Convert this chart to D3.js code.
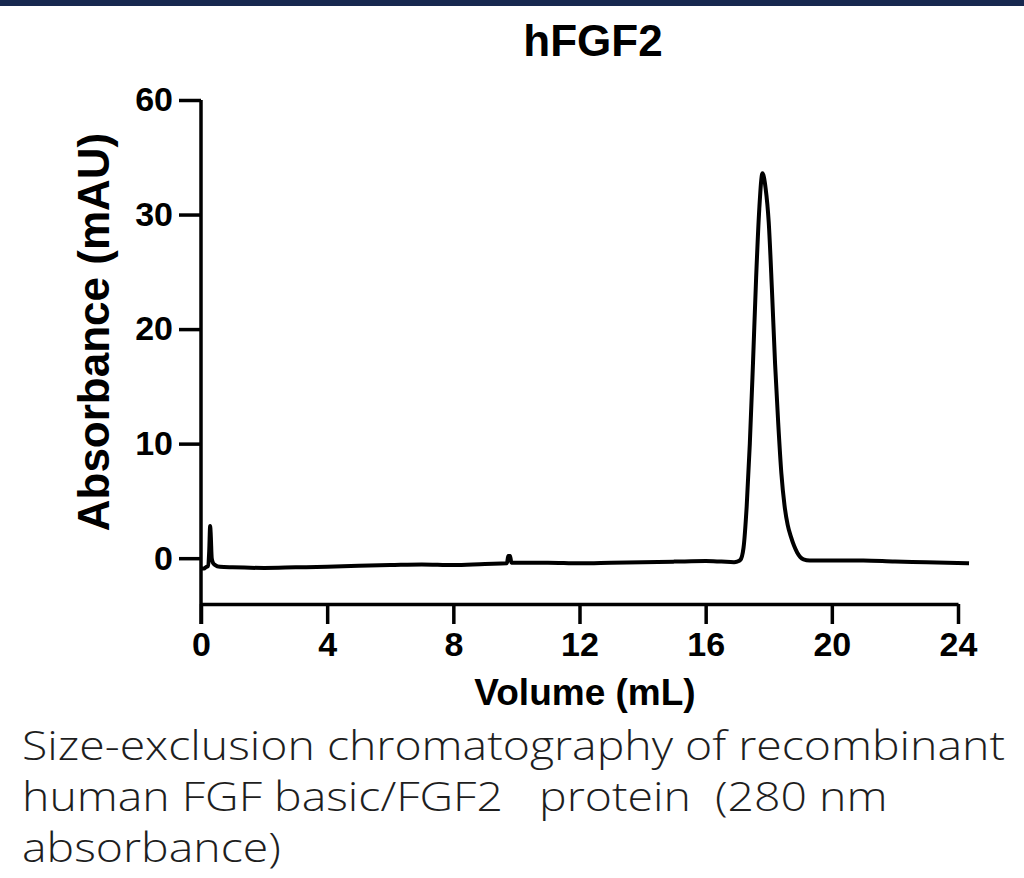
<!DOCTYPE html>
<html>
<head>
<meta charset="utf-8">
<script src="https://cdn.jsdelivr.net/npm/d3@7"></script>
<style>
  body { margin: 0; background: #fff; }
  svg { display: block; }
</style>
</head>
<body>
<svg id="chart" width="1024" height="878"></svg>
<script>
// chromatogram trace: volume (mL) / absorbance (mAU)
var volume = [0.02, 0.1, 0.15, 0.22, 0.26, 0.29, 0.31, 0.34, 0.38, 0.45, 0.6, 1, 2, 3, 4, 5, 6, 7, 8, 9, 9.7, 9.74, 9.8, 9.84,
  11, 12, 13, 14, 15, 16, 16.5, 16.9, 17.0, 17.1, 17.2, 17.3, 17.4, 17.5, 17.6, 17.7, 17.8, 17.9, 18.0, 18.1, 18.2,
  18.3, 18.4, 18.5, 18.6, 18.7, 18.8, 18.9, 19.0, 19.1, 19.3, 19.5, 20, 21, 22, 23, 24.35];
var absorbance = [-0.9, -0.9, -0.8, -0.7, 0.6, 2.8, 2.0, 0.0, -0.4, -0.6, -0.75, -0.8, -0.85, -0.8, -0.75, -0.65, -0.6, -0.55, -0.6, -0.5, -0.45, 0.2, 0.2, -0.4,
  -0.4, -0.45, -0.4, -0.35, -0.3, -0.25, -0.3, -0.35, -0.3, -0.15, 0.9, 4.5, 10, 17, 24.5, 30.5, 33.6, 32.3, 29.3, 23.5, 17,
  11.8, 7.4, 4.6, 2.9, 1.9, 1.1, 0.5, 0.1, -0.1, -0.2, -0.2, -0.2, -0.2, -0.3, -0.35, -0.45];

var xTicks = [0, 4, 8, 12, 16, 20, 24];
var yTicks = [0, 10, 20, 30, 40];
var yTickLabels = ["0", "10", "20", "30", "60"];

var title = "hFGF2";
var xTitle = "Volume (mL)";
var yTitle = "Absorbance (mAU)";
var caption = ["Size-exclusion chromatography of recombinant",
  "human FGF basic/FGF2   protein  (280 nm",
  "absorbance)"];

var svg = d3.select("#chart");
var padding = {top: 100, left: 201};

// top banner
svg.append("rect")
  .attr("x", 0).attr("y", 0)
  .attr("width", 1024).attr("height", 6)
  .attr("fill", "#17284f");

var xScale = d3.scaleLinear()
  .domain([0, 24])
  .range([0, 757]);
var yScale = d3.scaleLinear()
  .domain([-4, 40])
  .range([504, 0]);

var g = svg.append("g")
  .attr("transform", "translate(" + padding.left + "," + padding.top + ")");

var xAxis = g.append("g")
  .classed("xAxis", true)
  .attr("transform", "translate(0," + yScale(-4) + ")")
  .call(d3.axisBottom(xScale).tickValues(xTicks).tickSize(20).tickSizeOuter(0).tickPadding(8));

var yAxis = g.append("g")
  .classed("yAxis", true)
  .call(d3.axisLeft(yScale).tickValues(yTicks).tickSize(22).tickSizeOuter(0).tickPadding(6)
    .tickFormat(function(d, i) { return yTickLabels[i]; }));

g.selectAll(".domain")
  .attr("stroke", "#000")
  .attr("stroke-width", 3.5);
g.selectAll(".tick line")
  .attr("stroke", "#000")
  .attr("stroke-width", 3.5);
g.selectAll(".tick text")
  .attr("fill", "#000")
  .style("font-family", "'Liberation Sans', Arial, sans-serif")
  .style("font-weight", "bold")
  .style("font-size", "34px");

// y-axis overshoots the x axis a little at the origin
yAxis.select(".domain").attr("d", "M0," + yScale(40) + "V" + (yScale(-4) + 20));

var line = d3.line()
  .x(function(d, i) { return xScale(volume[i]); })
  .y(function(d) { return yScale(d); })
  .curve(d3.curveMonotoneX);

g.append("path")
  .datum(absorbance)
  .attr("d", line)
  .attr("fill", "none")
  .attr("stroke", "#000")
  .attr("stroke-width", 4)
  .attr("stroke-linejoin", "round");

// titles
svg.append("text")
  .attr("x", 593).attr("y", 56)
  .attr("text-anchor", "middle")
  .style("font-family", "'Liberation Sans', Arial, sans-serif")
  .style("font-weight", "bold")
  .style("font-size", "44px")
  .text(title);

svg.append("text")
  .attr("x", 585).attr("y", 705)
  .attr("text-anchor", "middle")
  .style("font-family", "'Liberation Sans', Arial, sans-serif")
  .style("font-weight", "bold")
  .style("font-size", "37px")
  .text(xTitle);

svg.append("text")
  .attr("transform", "translate(109,332) rotate(-90)")
  .attr("text-anchor", "middle")
  .style("font-family", "'Liberation Sans', Arial, sans-serif")
  .style("font-weight", "bold")
  .style("font-size", "44px")
  .text(yTitle);

var capText = svg.selectAll("text.caption").data(caption).enter()
  .append("text")
  .attr("class", "caption")
  .attr("x", 22)
  .attr("y", function(d, i) { return 760 + i * 51; })
  .attr("fill", "#1e1e1e")
  .style("white-space", "pre")
  .style("font-family", "'Open Sans', 'DejaVu Sans', sans-serif")
  .style("font-weight", 300)
  .style("font-size", "41px")
  .text(function(d) { return d; });

// the caption face in the picture is wider than Open Sans; stretch all lines alike
var stretch = 983 / capText.node().getComputedTextLength();
capText.each(function() {
  var w = this.getComputedTextLength();
  d3.select(this)
    .attr("textLength", w * stretch)
    .attr("lengthAdjust", "spacingAndGlyphs");
});
</script>
</body>
</html>
